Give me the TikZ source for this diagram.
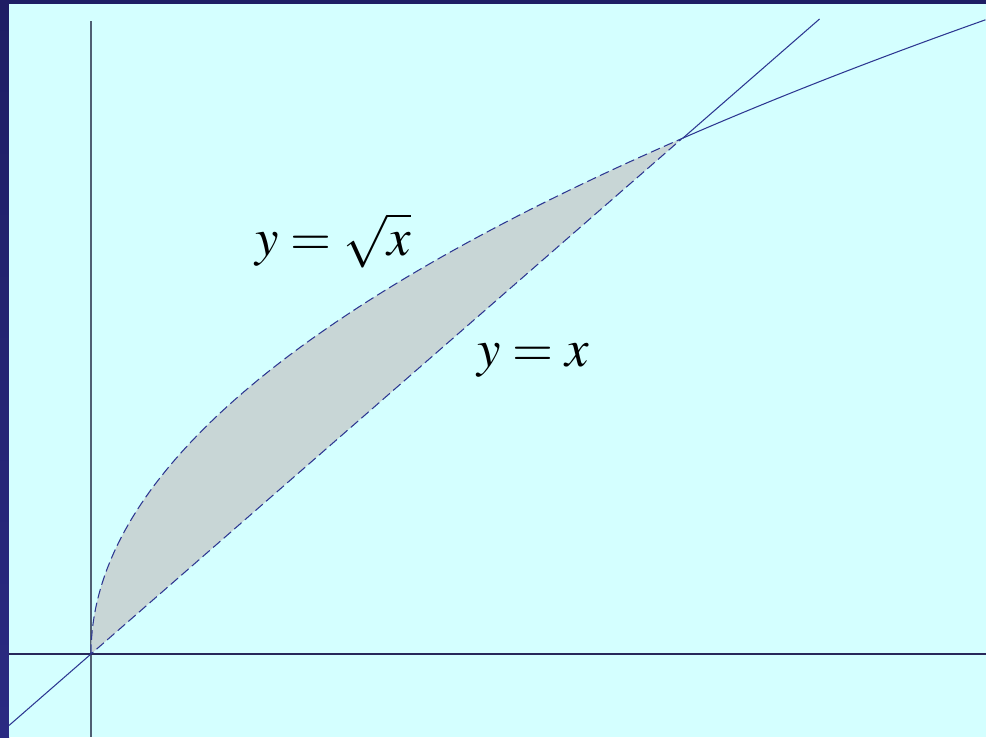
\documentclass[tikz,border=0pt]{standalone}
\usepackage{mathptmx}
\usepackage{tikz}
\definecolor{panelcyan}{RGB}{212,255,255}
\definecolor{framenavy}{RGB}{30,30,100}
\definecolor{framelight}{RGB}{42,42,130}
\definecolor{curveblue}{RGB}{45,55,145}
\definecolor{axisgrey}{RGB}{80,95,115}
\definecolor{axisnavy}{RGB}{40,40,90}
\definecolor{regiongrey}{RGB}{200,214,214}

\begin{document}
\begin{tikzpicture}[x=0.02cm, y=-0.02cm,
  curve/.style={curveblue, line width=0.6pt},
  boundary/.style={curveblue, line width=0.6pt, dash pattern=on 5.5pt off 2.5pt},
  axis/.style={line width=0.6pt},
  lbl/.style={anchor=base west, inner sep=0pt, font=\fontsize{30}{36}\selectfont}]
  \useasboundingbox (0,0) rectangle (986,737);
  % Slide frame
  \fill[framenavy] (0,0) rectangle (986,4);
  \shade[top color=framenavy, bottom color=framelight] (0,0) rectangle (9,737);
  \fill[panelcyan] (9,4) rectangle (986,737);
  % Axes
  \draw[axis, axisgrey] (91,21) -- (91,737);
  \draw[axis, axisnavy] (9,654) -- (986,654);
  \begin{scope}[shift={(91,654)}, x=11.84cm, y=10.32cm]
    % Region between the curves
    \fill[regiongrey] plot[domain=0:1, samples=80] ({\x*\x},\x) -- cycle;
    \draw[boundary] plot[domain=0:1, samples=80] ({\x*\x},\x) -- cycle;
    % Curves outside the region
    \draw[curve] plot[domain=1:1.2296, samples=20] ({\x*\x},\x);
    \draw[curve] (-0.1385,-0.1385) -- (0,0);
    \draw[curve] (1,1) -- (1.231,1.231);
  \end{scope}
  % Labels
  \node[lbl] (sqrtlabel) at (255,255) {$y=\sqrt{x}$};
  \node[lbl] (linelabel) at (477,366) {$y=x$};
\end{tikzpicture}
\end{document}
